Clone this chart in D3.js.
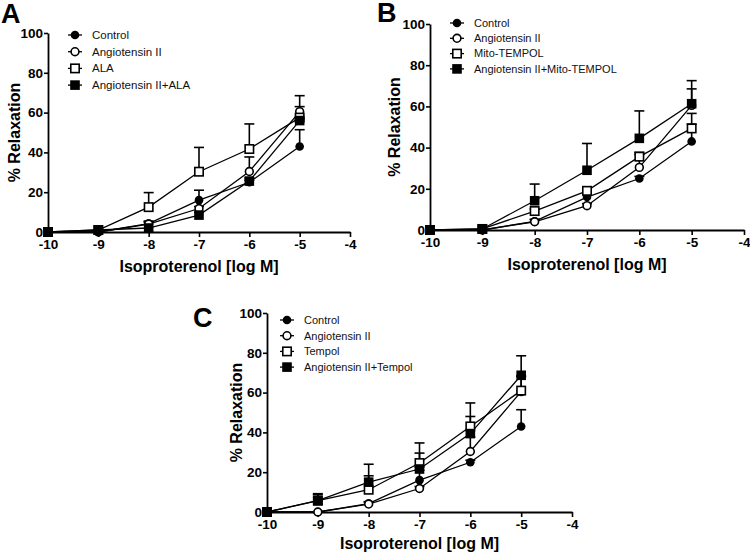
<!DOCTYPE html>
<html>
<head>
<meta charset="utf-8">
<script src="https://cdn.jsdelivr.net/npm/d3@7"></script>
<style>
  html, body { margin: 0; padding: 0; background: #fff; }
  svg { display: block; font-family: Arial, "Liberation Sans", sans-serif; }
</style>
</head>
<body>
<svg id="chart" width="750" height="556"></svg>
<script>
// ---- data ----
const logDose = [-10, -9, -8, -7, -6, -5];
const xTicks = [-10, -9, -8, -7, -6, -5, -4];
const yTicks = [0, 20, 40, 60, 80, 100];

const control       = [0, 0, 4.2, 16, 25, 43];
const controlErr    = [0, 0.5, 1, 5, 1, 8.4];
const angII         = [0, 0, 4, 11.8, 30.4, 60.5];
const angIIErr      = [0, 0, 1, 1, 7.3, 8];

const ala           = [0, 1, 12.5, 30.3, 41.7, 57.5];
const alaErr        = [0, 0.5, 7.3, 12.2, 12.6, 5.5];
const angAla        = [0, 1, 2, 8.5, 25.6, 56];
const angAlaErr     = [0, 0.5, 3.5, 1.5, 1.5, 1];

const mito          = [0, 0.5, 9.2, 19, 35.6, 49.3];
const mitoErr       = [0, 0.5, 1, 1, 1, 7.3];
const angMito       = [0, 0.5, 14.2, 29, 44.5, 61.3];
const angMitoErr    = [0, 0.5, 8.1, 13, 13.3, 11.2];

const tempol        = [0, 5.7, 11.2, 24.6, 43, 61];
const tempolErr     = [0, 3.5, 7, 10.1, 11.8, 7];
const angTempol     = [0, 5.7, 15, 21.6, 39.4, 68.7];
const angTempolErr  = [0, 3, 9, 8, 8.6, 9.8];

const legendA = ["Control", "Angiotensin II", "ALA", "Angiotensin II+ALA"];
const legendB = ["Control", "Angiotensin II", "Mito-TEMPOL", "Angiotensin II+Mito-TEMPOL"];
const legendC = ["Control", "Angiotensin II", "Tempol", "Angiotensin II+Tempol"];
const markerKinds = ["filledCircle", "openCircle", "openSquare", "filledSquare"];

const xLabel = "Isoproterenol [log M]";
const yLabel = "% Relaxation";

// ---- layout ----
const panels = [
  { letter: "A", letterPos: [1, 23], x0: 48, x1: 350, y0: 232, y1: 33,
    names: legendA, series: [control, angII, ala, angAla], errs: [controlErr, angIIErr, alaErr, angAlaErr],
    legX: 75, legY: 35, legDy: 16.7, legFont: 11.5, yLabX: 14, xLabY: 272 },
  { letter: "B", letterPos: [377, 22], x0: 430, x1: 744, y0: 230, y1: 24,
    names: legendB, series: [control, angII, mito, angMito], errs: [controlErr, angIIErr, mitoErr, angMitoErr],
    legX: 457, legY: 23, legDy: 15.3, legFont: 11, yLabX: 394, xLabY: 270 },
  { letter: "C", letterPos: [193, 327], x0: 267, x1: 572, y0: 512, y1: 313,
    names: legendC, series: [control, angII, tempol, angTempol], errs: [controlErr, angIIErr, tempolErr, angTempolErr],
    legX: 287, legY: 320, legDy: 15.7, legFont: 11, yLabX: 236, xLabY: 549 }
];

const svg = d3.select("#chart");

function drawMarker(g, kind, cx, cy) {
  if (kind === "filledCircle") {
    g.append("circle").attr("cx", cx).attr("cy", cy).attr("r", 4.3).attr("fill", "#000");
  } else if (kind === "openCircle") {
    g.append("circle").attr("cx", cx).attr("cy", cy).attr("r", 3.9)
      .attr("fill", "#fff").attr("stroke", "#000").attr("stroke-width", 1.6);
  } else if (kind === "openSquare") {
    g.append("rect").attr("x", cx - 4.2).attr("y", cy - 4.2).attr("width", 8.4).attr("height", 8.4)
      .attr("fill", "#fff").attr("stroke", "#000").attr("stroke-width", 1.6);
  } else {
    g.append("rect").attr("x", cx - 4.8).attr("y", cy - 4.8).attr("width", 9.6).attr("height", 9.6)
      .attr("fill", "#000");
  }
}

panels.forEach(p => {
  const x = d3.scaleLinear().domain([-10, -4]).range([p.x0, p.x1]);
  const y = d3.scaleLinear().domain([0, 100]).range([p.y0, p.y1]);
  const g = svg.append("g");

  // axes
  const xa = g.append("g").attr("transform", `translate(0,${p.y0})`)
    .call(d3.axisBottom(x).tickValues(xTicks).tickSize(5).tickSizeOuter(0).tickPadding(2).tickFormat(d3.format("d")));
  const ya = g.append("g").attr("transform", `translate(${p.x0},0)`)
    .call(d3.axisLeft(y).tickValues(yTicks).tickSize(4).tickSizeOuter(0).tickPadding(1));
  [xa, ya].forEach(a => {
    a.select(".domain").attr("stroke", "#000").attr("stroke-width", 1.8);
    a.selectAll(".tick line").attr("stroke", "#000").attr("stroke-width", 1.6);
    a.selectAll(".tick text").attr("fill", "#000").attr("font-size", 13.5).attr("font-weight", "bold")
      .attr("font-family", "Arial, 'Liberation Sans', sans-serif");
  });
  xa.selectAll(".tick text").text(d => d3.format("d")(d).replace("−", "-"));

  // axis titles
  g.append("text").attr("x", (p.x0 + p.x1) / 2).attr("y", p.xLabY)
    .attr("text-anchor", "middle").attr("font-size", 16).attr("font-weight", "bold").text(xLabel);
  g.append("text").attr("transform", `translate(${p.yLabX},${(p.y0 + p.y1) / 2}) rotate(-90)`)
    .attr("text-anchor", "middle").attr("dy", "0.35em").attr("font-size", 16).attr("font-weight", "bold").text(yLabel);

  // panel letter
  g.append("text").attr("x", p.letterPos[0]).attr("y", p.letterPos[1])
    .attr("font-size", 27).attr("font-weight", "bold").text(p.letter);

  const line = d3.line().x((d, i) => x(logDose[i])).y(d => y(d));

  // lines
  p.series.forEach(s => {
    g.append("path").datum(s).attr("d", line).attr("fill", "none")
      .attr("stroke", "#000").attr("stroke-width", 1.3);
  });
  // error bars (upper only)
  p.series.forEach((s, k) => {
    s.forEach((v, i) => {
      const e = p.errs[k][i];
      if (e <= 0.6) return;
      const cx = x(logDose[i]);
      g.append("line").attr("x1", cx).attr("x2", cx).attr("y1", y(v)).attr("y2", y(v + e))
        .attr("stroke", "#000").attr("stroke-width", 1.6);
      g.append("line").attr("x1", cx - 5).attr("x2", cx + 5).attr("y1", y(v + e)).attr("y2", y(v + e))
        .attr("stroke", "#000").attr("stroke-width", 1.6);
    });
  });
  // markers
  p.series.forEach((s, k) => {
    s.forEach((v, i) => drawMarker(g, markerKinds[k], x(logDose[i]), y(v)));
  });

  // legend
  p.names.forEach((name, k) => {
    const ly = p.legY + k * p.legDy;
    g.append("line").attr("x1", p.legX - 7).attr("x2", p.legX + 7).attr("y1", ly).attr("y2", ly)
      .attr("stroke", "#000").attr("stroke-width", 1.3);
    drawMarker(g, markerKinds[k], p.legX, ly);
    g.append("text").attr("x", p.legX + 17).attr("y", ly).attr("dy", "0.35em")
      .attr("font-size", p.legFont).attr("fill", "#111").text(name);
  });
});
</script>
</body>
</html>
